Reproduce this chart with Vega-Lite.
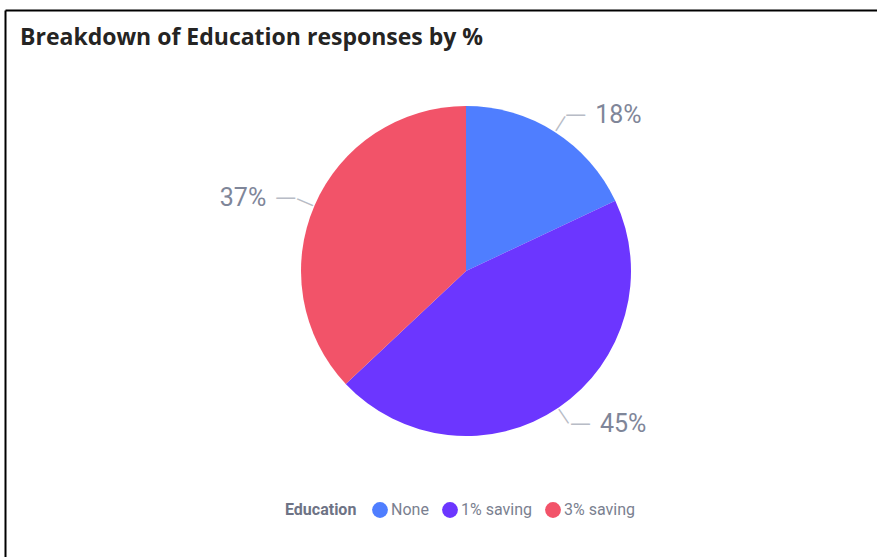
{
  "$schema": "https://vega.github.io/schema/vega-lite/v6.json",
  "width": 872,
  "height": 547,
  "autosize": {"type": "none"},
  "padding": {"left": 5, "top": 10, "right": 0, "bottom": 0},
  "background": "white",
  "config": {
    "view": {"stroke": null},
    "font": "Open Sans"
  },
  "title": {
    "text": "Breakdown of Education responses by %",
    "anchor": "start",
    "frame": "group",
    "orient": "top",
    "offset": 0,
    "baseline": "top",
    "dx": 15,
    "dy": 43,
    "font": "Open Sans",
    "fontSize": 23,
    "fontWeight": "bold",
    "color": "#252423"
  },
  "data": {
    "values": [
      {"Education": "None", "pct": 18, "label": "18%", "side": "right", "rank": 1},
      {"Education": "1% saving", "pct": 45, "label": "45%", "side": "right", "rank": 2},
      {"Education": "3% saving", "pct": 37, "label": "37%", "side": "left", "rank": 3}
    ]
  },
  "layer": [
    {
      "mark": {"type": "point", "opacity": 0},
      "encoding": {
        "x": {
          "field": "pct",
          "type": "quantitative",
          "axis": {"orient": "top", "domain": true, "domainColor": "#000000", "domainWidth": 2, "ticks": false, "labels": false, "grid": false, "title": null}
        },
        "y": {
          "field": "pct",
          "type": "quantitative",
          "axis": {"orient": "left", "domain": true, "domainColor": "#000000", "domainWidth": 2, "ticks": false, "labels": false, "grid": false, "title": null}
        }
      }
    },
    {
      "encoding": {
        "theta": {"field": "pct", "type": "quantitative", "stack": true},
        "order": {"field": "rank", "sort": "ascending"},
        "color": {
          "field": "Education",
          "type": "nominal",
          "sort": ["None", "1% saving", "3% saving"],
          "scale": {
            "domain": ["None", "1% saving", "3% saving"],
            "range": ["#4F7EFF", "#6C36FF", "#F25369"]
          },
          "legend": {
            "orient": "none",
            "legendX": 280,
            "legendY": 492,
            "direction": "horizontal",
            "titleOrient": "left",
            "title": "Education",
            "titleFont": "Roboto",
            "titleFontSize": 16,
            "titleFontWeight": "bold",
            "titleColor": "#6E7385",
            "titlePadding": 15,
            "labelFont": "Roboto",
            "labelFontSize": 16,
            "labelColor": "#7A7F90",
            "labelOffset": 3,
            "symbolType": "circle",
            "symbolSize": 250,
            "symbolStrokeWidth": 0,
            "columnPadding": 13
          }
        }
      },
      "layer": [
        {
          "mark": {"type": "arc", "outerRadius": 165, "x": 461, "y": 261, "stroke": null}
        },
        {
          "mark": {
            "type": "text",
            "x": 461,
            "y": 261,
            "radius": 175,
            "text": "—",
            "font": "DejaVu Sans",
            "fontSize": 19,
            "align": "center",
            "baseline": "middle"
          },
          "encoding": {
            "color": {"value": "#B8BCC6"},
            "angle": {
              "condition": [
                {"test": "datum.Education === 'None'", "value": 302.4},
                {"test": "datum.Education === '1% saving'", "value": 55.8}
              ],
              "value": 23.4
            }
          }
        },
        {
          "mark": {
            "type": "text",
            "x": 461,
            "y": 261,
            "radius": 185,
            "font": "DejaVu Sans",
            "fontSize": 21,
            "align": "left",
            "baseline": "middle"
          },
          "encoding": {
            "color": {"value": "#B8BCC6"},
            "text": {"condition": {"test": "datum.side === 'right'", "value": "—"}, "value": ""}
          }
        },
        {
          "mark": {
            "type": "text",
            "x": 461,
            "y": 261,
            "radius": 185,
            "font": "DejaVu Sans",
            "fontSize": 21,
            "align": "right",
            "baseline": "middle"
          },
          "encoding": {
            "color": {"value": "#B8BCC6"},
            "text": {"condition": {"test": "datum.side === 'left'", "value": "—"}, "value": ""}
          }
        },
        {
          "mark": {
            "type": "text",
            "x": 461,
            "y": 261,
            "radius": 185,
            "dx": 30,
            "font": "Roboto",
            "fontSize": 25,
            "align": "left",
            "baseline": "middle"
          },
          "encoding": {
            "color": {"value": "#7F8699"},
            "text": {"condition": {"test": "datum.side === 'right'", "field": "label"}, "value": ""}
          }
        },
        {
          "mark": {
            "type": "text",
            "x": 461,
            "y": 261,
            "radius": 185,
            "dx": -30,
            "font": "Roboto",
            "fontSize": 25,
            "align": "right",
            "baseline": "middle"
          },
          "encoding": {
            "color": {"value": "#7F8699"},
            "text": {"condition": {"test": "datum.side === 'left'", "field": "label"}, "value": ""}
          }
        }
      ]
    }
  ]
}
